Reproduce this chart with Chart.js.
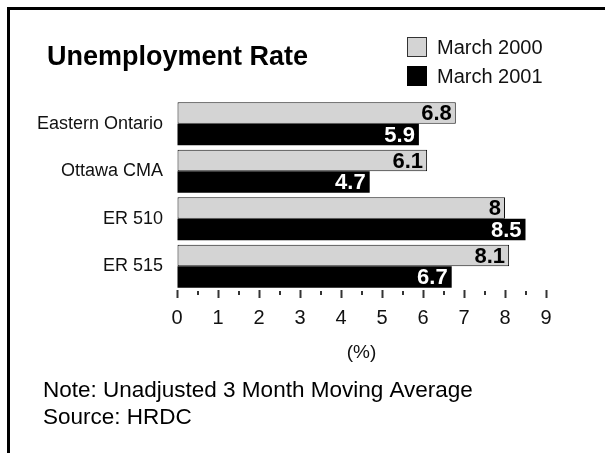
<!DOCTYPE html>
<html>
<head>
<meta charset="utf-8">
<script src="https://cdn.jsdelivr.net/npm/chart.js@4.4.1/dist/chart.umd.min.js"></script>
<style>
  body { margin: 0; background: #fff; }
  #chart { display: block; }
</style>
</head>
<body>
<canvas id="chart" width="605" height="453"></canvas>
<script>
// data
const categories = ['Eastern Ontario', 'Ottawa CMA', 'ER 510', 'ER 515'];
const march2000 = [6.8, 6.1, 8, 8.1];
const march2001 = [5.9, 4.7, 8.5, 6.7];
const seriesNames = ['March 2000', 'March 2001'];
const xMin = 0, xMax = 9;
const titleText = 'Unemployment Rate';
const axisTitle = '(%)';
const notes = ['Note: Unadjusted 3 Month Moving Average', 'Source: HRDC'];

const FONT = '"Liberation Sans", Arial, Helvetica, sans-serif';
const GRAY = '#d4d4d4';

// frame, title, legend and notes
const decorations = {
  id: 'decorations',
  beforeDraw(chart) {
    const ctx = chart.ctx;
    ctx.save();
    ctx.fillStyle = '#fff';
    ctx.fillRect(0, 0, chart.width, chart.height);
    ctx.fillStyle = '#000';
    ctx.fillRect(7, 7, chart.width - 7, 3);
    ctx.fillRect(7, 7, 3, chart.height - 7);
    ctx.restore();
  },
  afterDraw(chart) {
    const ctx = chart.ctx;
    ctx.save();
    ctx.fillStyle = '#000';
    ctx.textBaseline = 'alphabetic';
    ctx.textAlign = 'left';
    ctx.font = 'bold 27px ' + FONT;
    ctx.fillText(titleText, 47, 65);

    // legend from the datasets
    ctx.font = '20px ' + FONT;
    chart.data.datasets.forEach((ds, i) => {
      const y = 37 + i * 29;
      ctx.fillStyle = ds.backgroundColor;
      ctx.fillRect(407, y, 20, 20);
      if (ds.borderWidth) {
        ctx.strokeStyle = '#333';
        ctx.lineWidth = 1;
        ctx.strokeRect(407.5, y + 0.5, 19, 19);
      }
      ctx.fillStyle = '#111';
      ctx.fillText(ds.label, 437, y + 17);
    });

    ctx.font = '22.5px ' + FONT;
    ctx.fillStyle = '#000';
    notes.forEach((t, i) => ctx.fillText(t, 43, 397 + i * 26.5));
    ctx.restore();
  }
};

// value labels at the end of each bar
const valueLabels = {
  id: 'valueLabels',
  afterDatasetsDraw(chart) {
    const ctx = chart.ctx;
    ctx.save();
    ctx.font = 'bold 22px ' + FONT;
    ctx.textAlign = 'right';
    ctx.textBaseline = 'middle';
    chart.data.datasets.forEach((ds, i) => {
      const meta = chart.getDatasetMeta(i);
      ctx.fillStyle = i === 0 ? '#000' : '#fff';
      meta.data.forEach((bar, j) => {
        ctx.fillText(String(ds.data[j]), bar.x - 4, bar.y + 1);
      });
    });
    ctx.restore();
  }
};

// half-step ticks on the x axis
const minorTicks = {
  id: 'minorTicks',
  afterDraw(chart) {
    const sx = chart.scales.x;
    const ctx = chart.ctx;
    const top = chart.chartArea.bottom + 1;
    ctx.save();
    ctx.strokeStyle = '#333';
    ctx.lineWidth = 2;
    for (let v = xMin + 0.5; v < xMax; v += 1) {
      const px = Math.round(sx.getPixelForValue(v));
      ctx.beginPath();
      ctx.moveTo(px, top);
      ctx.lineTo(px, top + 4);
      ctx.stroke();
    }
    ctx.restore();
  }
};

new Chart(document.getElementById('chart'), {
  type: 'bar',
  data: {
    labels: categories,
    datasets: [
      {
        label: seriesNames[0],
        data: march2000,
        backgroundColor: GRAY,
        borderColor: '#111',
        borderWidth: 1,
        borderSkipped: false
      },
      {
        label: seriesNames[1],
        data: march2001,
        backgroundColor: '#000',
        borderWidth: 0
      }
    ]
  },
  options: {
    indexAxis: 'y',
    responsive: false,
    animation: false,
    events: [],
    layout: { padding: { top: 100, right: 59, bottom: 0, left: 0 } },
    datasets: { bar: { categoryPercentage: 0.905, barPercentage: 1 } },
    plugins: {
      legend: { display: false },
      title: { display: false },
      tooltip: { enabled: false }
    },
    scales: {
      x: {
        min: xMin,
        max: xMax,
        ticks: {
          stepSize: 1,
          color: '#111',
          padding: 8,
          font: { family: FONT, size: 20 }
        },
        grid: {
          drawOnChartArea: false,
          drawTicks: true,
          tickLength: 8,
          tickColor: '#333',
          tickWidth: 2
        },
        border: { display: false },
        title: {
          display: true,
          text: axisTitle,
          color: '#111',
          font: { family: FONT, size: 19 },
          padding: { top: 0, bottom: 89 }
        },
        afterFit(scale) { scale.height = 163; }
      },
      y: {
        ticks: {
          color: '#111',
          padding: 6,
          font: { family: FONT, size: 18 }
        },
        grid: { display: false },
        border: { display: false },
        afterFit(scale) { scale.width = 177; }
      }
    }
  },
  plugins: [decorations, valueLabels, minorTicks]
});
</script>
</body>
</html>
